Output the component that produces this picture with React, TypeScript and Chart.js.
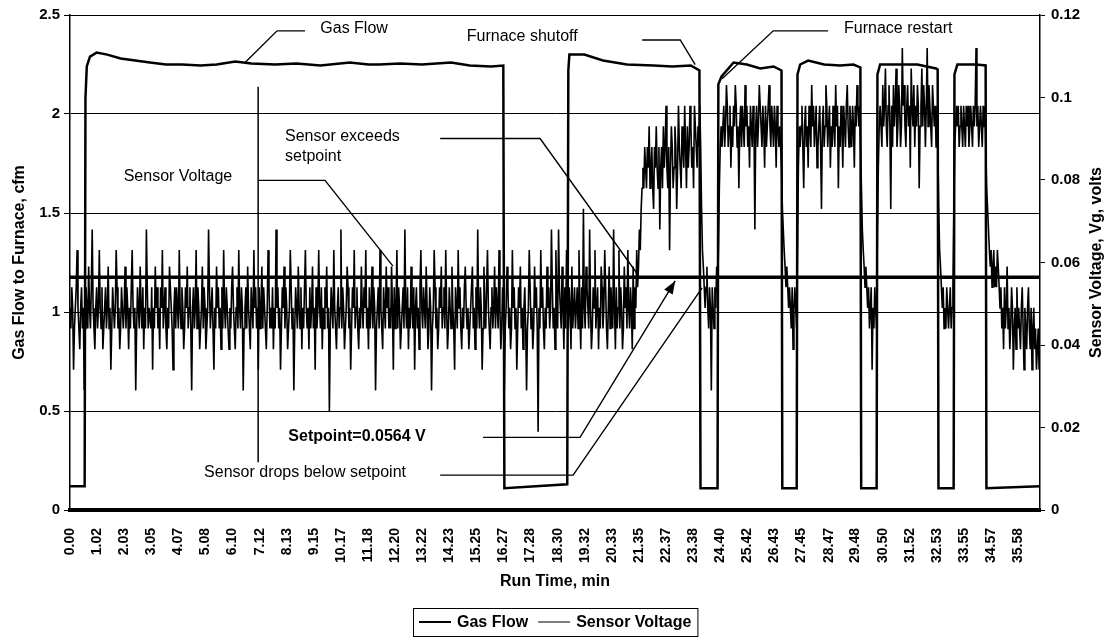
import { useEffect, useRef } from "react";
import { Chart, registerables } from "chart.js";

Chart.register(...registerables);

const FONT = "Arial, 'Liberation Sans', Helvetica, sans-serif";

// Run time tick labels (min), one label every 61 s of logging
const TICK_LABELS = [
  "0.00", "1.02", "2.03", "3.05", "4.07", "5.08", "6.10", "7.12", "8.13", "9.15",
  "10.17", "11.18", "12.20", "13.22", "14.23", "15.25", "16.27", "17.28", "18.30", "19.32",
  "20.33", "21.35", "22.37", "23.38", "24.40", "25.42", "26.43", "27.45", "28.47", "29.48",
  "30.50", "31.52", "32.53", "33.55", "34.57", "35.58",
];

const RUN_END_MIN = 36.4;

// Gas flow to the furnace (cfm) against run time (min)
const GAS_TIME_MIN = [
  0.0, 0.55, 0.58, 0.63, 0.75, 1.0, 1.4, 1.9, 2.45, 3.0, 3.6, 4.2, 4.9, 5.5, 6.2, 6.8, 7.7, 8.5,
  9.4, 10.5, 11.2, 11.6, 12.4, 13.2, 14.3, 15.0, 15.8, 16.26, 16.3, 18.66, 18.7, 18.74, 19.3,
  20.0, 20.9, 21.9, 22.6, 23.3, 23.62, 23.66, 24.3, 24.33, 24.45, 24.9, 25.4, 25.9, 26.4, 26.7,
  26.73, 27.27, 27.3, 27.4, 27.7, 28.3, 28.9, 29.4, 29.66, 29.69, 30.27, 30.3, 30.4, 31.0, 31.8,
  32.5, 32.56, 32.59, 33.16, 33.19, 33.3, 34.0, 34.36, 34.39, 36.4,
];
const GAS_FLOW_CFM = [
  0.12, 0.12, 2.08, 2.24, 2.29, 2.31, 2.3, 2.28, 2.27, 2.26, 2.25, 2.25, 2.245, 2.25, 2.265, 2.255,
  2.25, 2.255, 2.245, 2.26, 2.25, 2.25, 2.255, 2.25, 2.26, 2.245, 2.24, 2.245, 0.11, 0.13, 2.22,
  2.3, 2.3, 2.27, 2.25, 2.245, 2.24, 2.245, 2.22, 0.11, 0.11, 2.15, 2.19, 2.26, 2.25, 2.23, 2.24,
  2.22, 0.11, 0.11, 2.2, 2.25, 2.27, 2.25, 2.245, 2.25, 2.235, 0.11, 0.11, 2.2, 2.25, 2.25, 2.25,
  2.23, 2.225, 0.11, 0.11, 2.2, 2.25, 2.25, 2.245, 0.11, 0.12,
];

// Sensor voltage Vg, logged every 2 s, in millivolts (one row = one minute)
const SENSOR_SAMPLE_SEC = 2;
const SENSOR_MV = [
  49, 44, 54, 49, 34, 44, 49, 54, 63, 49, 44, 39, 49, 54, 44, 49, 29, 44, 54, 49, 44, 59, 49, 44, 54, 68, 49, 44, 39, 49,
  54, 44, 49, 63, 49, 44, 54, 39, 44, 49, 54, 44, 49, 59, 44, 49, 34, 44, 54, 49, 44, 49, 63, 54, 44, 49, 39, 44, 54, 49,
  44, 49, 59, 44, 54, 49, 39, 49, 44, 54, 63, 49, 44, 49, 29, 44, 54, 49, 44, 59, 49, 44, 54, 39, 49, 44, 68, 54, 44, 49,
  49, 44, 54, 34, 49, 44, 59, 49, 54, 44, 49, 39, 54, 49, 63, 44, 49, 54, 44, 39, 49, 44, 59, 54, 49, 44, 34, 49, 54, 44,
  54, 49, 44, 63, 49, 44, 54, 49, 39, 44, 54, 49, 59, 44, 49, 54, 44, 29, 49, 54, 44, 49, 63, 44, 54, 49, 39, 44, 49, 59,
  44, 54, 49, 39, 44, 49, 68, 54, 44, 49, 54, 44, 34, 49, 44, 59, 49, 54, 44, 49, 39, 54, 44, 63, 49, 44, 54, 49, 44, 39,
  49, 44, 54, 59, 49, 44, 39, 49, 54, 44, 63, 49, 44, 54, 49, 29, 44, 49, 54, 44, 59, 49, 44, 39, 54, 49, 44, 63, 49, 54,
  44, 49, 34, 54, 44, 49, 59, 44, 54, 49, 44, 39, 49, 63, 54, 44, 49, 44, 54, 39, 49, 44, 68, 49, 54, 44, 49, 34, 44, 54,
  49, 59, 44, 54, 49, 39, 44, 49, 63, 54, 44, 49, 29, 44, 54, 49, 44, 59, 49, 44, 54, 39, 49, 44, 54, 63, 49, 44, 49, 39,
  54, 44, 49, 59, 44, 49, 34, 54, 44, 49, 63, 49, 44, 54, 39, 49, 44, 54, 49, 59, 44, 49, 24, 44, 54, 49, 44, 63, 49, 44,
  39, 49, 54, 44, 49, 68, 44, 54, 49, 39, 44, 49, 59, 54, 44, 49, 34, 44, 54, 49, 63, 44, 49, 54, 44, 39, 49, 44, 59, 49,
  44, 54, 49, 63, 44, 49, 39, 54, 44, 49, 59, 44, 54, 49, 29, 44, 49, 54, 44, 63, 49, 44, 39, 54, 49, 44, 59, 49, 54, 44,
  49, 44, 59, 49, 34, 54, 44, 49, 63, 44, 54, 49, 39, 44, 49, 54, 44, 68, 49, 44, 54, 39, 49, 44, 59, 49, 44, 54, 34, 49,
  54, 44, 49, 39, 54, 63, 49, 44, 54, 49, 44, 59, 49, 39, 44, 54, 49, 29, 44, 49, 63, 54, 44, 49, 39, 44, 54, 49, 59, 44,
  49, 54, 44, 63, 49, 39, 44, 54, 49, 44, 59, 49, 44, 34, 54, 49, 44, 63, 49, 54, 44, 39, 49, 44, 54, 59, 49, 44, 49, 39,
  44, 49, 54, 59, 44, 49, 39, 54, 44, 68, 49, 44, 54, 49, 34, 44, 59, 49, 44, 54, 63, 49, 44, 39, 49, 54, 44, 49, 59, 44,
  54, 49, 44, 63, 49, 39, 44, 54, 49, 29, 44, 49, 59, 54, 44, 49, 39, 44, 63, 49, 54, 44, 49, 34, 44, 54, 49, 59, 44, 49,
  39, 49, 54, 44, 29, 44, 49, 63, 54, 44, 49, 39, 44, 59, 49, 54, 44, 19, 49, 44, 63, 49, 54, 44, 39, 49, 44, 59, 49, 54,
  44, 49, 68, 54, 44, 49, 39, 63, 49, 44, 68, 54, 49, 44, 59, 49, 39, 54, 44, 63, 49, 44, 54, 49, 39, 59, 44, 49, 54, 44,
  49, 54, 44, 63, 49, 39, 54, 44, 73, 49, 44, 59, 54, 49, 44, 68, 49, 39, 44, 54, 49, 63, 44, 49, 54, 39, 49, 44, 59, 54,
  44, 49, 63, 54, 44, 39, 49, 59, 44, 54, 49, 44, 68, 49, 39, 54, 44, 49, 63, 44, 54, 49, 39, 44, 59, 49, 54, 44, 63, 49,
  44, 54, 49, 39, 59, 44, 54, 49, 63, 54,
  59, 68, 63, 73, 78, 83, 78, 88,
  83, 78, 88, 83, 93, 78, 83, 88, 78, 73, 88, 83, 93, 83, 78, 88, 68, 83, 88, 78, 93, 83, 88, 98, 83, 78, 88, 63, 83, 93,
  88, 78, 83, 93, 88, 73, 83, 98, 88, 83, 78, 93, 88, 83, 98, 88, 78, 93, 83, 88, 98, 93, 83, 88, 78, 98, 93, 88, 83, 93,
  88, 98,
  88, 73, 63, 59, 54, 49, 54, 59, 49, 44, 54, 49, 29, 54, 49, 44, 54, 49, 59, 54,
  63, 78, 88, 93, 88,
  93, 98, 88, 93, 103, 98, 88, 93, 98, 83, 93, 88, 98, 93, 103, 98, 88, 93, 78, 93, 98, 88, 98, 93, 88, 103, 93, 98, 88, 93,
  83, 98, 93, 88, 98, 93, 68, 93, 98, 88, 93, 103, 98, 93, 88, 98, 93, 83, 98, 88, 93, 98, 103, 93, 88, 98, 93, 88, 98, 93,
  83, 98, 93, 88, 93,
  88, 83, 73, 68, 63, 59, 54, 59, 54, 49, 54, 49, 44, 54, 39, 49, 54, 49, 44,
  63, 83, 93, 88,
  93, 98, 88, 78, 93, 98, 88, 93, 83, 98, 93, 88, 103, 93, 98, 88, 93, 98, 83, 88, 93, 98, 88, 73, 93, 98, 88, 93, 103, 98,
  88, 93, 98, 83, 93, 88, 98, 93, 88, 103, 93, 98, 78, 93, 88, 98, 93, 83, 98, 93, 88, 98, 103, 93, 88, 98, 93, 88, 98, 93,
  83, 98, 93, 103, 98, 93, 98,
  88, 78, 68, 63, 59, 54, 59, 54, 49, 54, 44, 49, 54, 34, 49, 44, 54, 49, 44,
  68, 83, 93, 98,
  98, 88, 103, 93, 98, 107, 93, 88, 98, 103, 93, 73, 98, 88, 103, 93, 98, 107, 88, 93, 103, 98, 88, 93, 112, 98, 103, 93, 88, 98,
  103, 93, 98, 83, 107, 98, 93, 103, 88, 98, 93, 103, 98, 78, 93, 98, 107, 93, 103, 98, 88, 98, 112, 93, 103, 98, 93, 88, 103, 98,
  93, 98, 88, 98,
  88, 73, 63, 59, 54, 49, 54, 44, 49, 44, 54, 49, 44, 49, 54, 44, 49, 54,
  73, 88, 93, 98,
  93, 98, 88, 93, 98, 93, 88, 98, 93, 88, 98, 93, 98, 88, 93, 98, 93, 88, 98, 93, 98, 112, 93, 98, 88, 93, 98, 93, 88, 98,
  93, 98,
  88, 78, 73, 68, 63, 59, 63, 54, 59, 63, 54, 59, 54, 63, 59, 54,
  49, 54, 44, 49, 39, 54, 44, 49, 59, 44, 49, 39, 44, 54, 49, 34, 44, 49, 39, 54, 44, 49, 44, 39, 49, 54, 44, 34, 49, 44,
  39, 49, 54, 44, 39, 49, 34, 44, 49, 39, 44, 34, 39, 44, 34,
];

const SETPOINT_V = 0.0564;

const FLOW_TICKS = [0, 0.5, 1, 1.5, 2, 2.5];
const VOLT_TICKS = [0, 0.02, 0.04, 0.06, 0.08, 0.1, 0.12];

// Callout texts with their leader lines, in (run time min, gas flow cfm)
type Callout = {
  text: string[];
  at: [number, number];
  align?: CanvasTextAlign;
  bold?: boolean;
  arrow?: boolean;
  leader: [number, number][];
};

const CALLOUTS: Callout[] = [
  { text: ["Gas Flow"], at: [10.66, 2.43], leader: [[8.82, 2.42], [7.77, 2.42], [6.57, 2.26]] },
  { text: ["Furnace shutoff"], at: [16.97, 2.39], leader: [[21.47, 2.374], [22.9, 2.374], [23.46, 2.249]] },
  { text: ["Furnace restart"], at: [31.08, 2.43], leader: [[28.45, 2.42], [26.39, 2.42], [24.47, 2.178]] },
  {
    text: ["Sensor exceeds", "setpoint"],
    at: [8.07, 1.886],
    align: "left",
    leader: [[13.89, 1.876], [17.64, 1.876], [21.32, 1.187]],
  },
  { text: ["Sensor Voltage"], at: [4.05, 1.685], leader: [[7.06, 1.665], [9.57, 1.665], [12.12, 1.232]] },
  {
    text: [`Setpoint=${SETPOINT_V} V`],
    at: [10.77, 0.372],
    bold: true,
    arrow: true,
    leader: [[15.5, 0.367], [19.14, 0.367], [22.71, 1.157]],
  },
  {
    text: ["Sensor drops below setpoint"],
    at: [8.82, 0.191],
    leader: [[13.89, 0.176], [18.88, 0.176], [23.72, 1.122]],
  },
];

const MARKER_LINE: [number, number][] = [[7.06, 2.138], [7.06, 0.241]];

const decorations = {
  id: "decorations",
  afterDraw(chart: any) {
    const { ctx, chartArea: a, scales } = chart;
    const px = (t: number) => scales.x.getPixelForValue(t);
    const py = (v: number) => scales.y.getPixelForValue(v);
    ctx.save();
    ctx.strokeStyle = "#000";
    ctx.fillStyle = "#000";

    // plot frame top edge
    ctx.lineWidth = 1;
    ctx.beginPath();
    ctx.moveTo(a.left, a.top + 0.5);
    ctx.lineTo(a.right, a.top + 0.5);
    ctx.stroke();

    // vertical marker
    ctx.lineWidth = 1.5;
    ctx.beginPath();
    ctx.moveTo(px(MARKER_LINE[0][0]), py(MARKER_LINE[0][1]));
    ctx.lineTo(px(MARKER_LINE[1][0]), py(MARKER_LINE[1][1]));
    ctx.stroke();

    // callouts
    for (const c of CALLOUTS) {
      ctx.lineWidth = 1.4;
      ctx.beginPath();
      c.leader.forEach(([t, v], k) => (k ? ctx.lineTo(px(t), py(v)) : ctx.moveTo(px(t), py(v))));
      ctx.stroke();
      if (c.arrow) {
        const n = c.leader.length;
        const x1 = px(c.leader[n - 2][0]), y1 = py(c.leader[n - 2][1]);
        const x2 = px(c.leader[n - 1][0]), y2 = py(c.leader[n - 1][1]);
        const ang = Math.atan2(y2 - y1, x2 - x1);
        const L = 13, W = 5;
        const bx = x2 - L * Math.cos(ang), by = y2 - L * Math.sin(ang);
        ctx.beginPath();
        ctx.moveTo(x2, y2);
        ctx.lineTo(bx - W * Math.sin(ang), by + W * Math.cos(ang));
        ctx.lineTo(bx + W * Math.sin(ang), by - W * Math.cos(ang));
        ctx.closePath();
        ctx.fill();
      }
      ctx.font = `${c.bold ? "bold " : ""}16px ${FONT}`;
      ctx.textAlign = c.align ?? "center";
      ctx.textBaseline = "middle";
      c.text.forEach((line, k) => ctx.fillText(line, px(c.at[0]), py(c.at[1]) + k * 20));
    }

    // axis titles
    ctx.font = `bold 16px ${FONT}`;
    ctx.textAlign = "center";
    ctx.textBaseline = "middle";
    ctx.fillText("Run Time, min", (a.left + a.right) / 2, 582);
    const midY = (a.top + a.bottom) / 2;
    ctx.save();
    ctx.translate(20, midY);
    ctx.rotate(-Math.PI / 2);
    ctx.fillText("Gas Flow to Furnace, cfm", 0, 0);
    ctx.restore();
    ctx.save();
    ctx.translate(1097, midY);
    ctx.rotate(-Math.PI / 2);
    ctx.fillText("Sensor Voltage, Vg, volts", 0, 0);
    ctx.restore();

    // legend box
    const items = chart.data.datasets.filter((d: any) => !d.hideInLegend);
    ctx.font = `bold 16px ${FONT}`;
    const lineLen = 32, gap = 6, itemGap = 10, pad = 6, boxH = 28;
    const widths = items.map((d: any) => lineLen + gap + ctx.measureText(d.label).width);
    const total = pad * 2 + widths.reduce((s: number, w: number) => s + w, 0) + itemGap * (items.length - 1);
    const cy = 622;
    let x = Math.round((a.left + a.right) / 2 - total / 2);
    ctx.lineWidth = 1;
    ctx.strokeRect(x + 0.5, cy - boxH / 2 + 0.5, total, boxH);
    x += pad;
    ctx.textAlign = "left";
    items.forEach((d: any, k: number) => {
      ctx.lineWidth = d.legendLineWidth;
      ctx.beginPath();
      ctx.moveTo(x, cy);
      ctx.lineTo(x + lineLen, cy);
      ctx.stroke();
      ctx.fillText(d.label, x + lineLen + gap, cy + 1);
      x += widths[k] + itemGap;
    });

    ctx.restore();
  },
};

export default function App() {
  const ref = useRef<HTMLCanvasElement>(null);

  useEffect(() => {
    const gasData = GAS_TIME_MIN.map((t, i) => ({ x: t, y: GAS_FLOW_CFM[i] }));
    const sensorData = SENSOR_MV.map((mv, i) => ({ x: (i * SENSOR_SAMPLE_SEC) / 60, y: mv / 1000 }));
    const setpointData = [
      { x: 0, y: SETPOINT_V },
      { x: RUN_END_MIN, y: SETPOINT_V },
    ];
    const tickFont = { family: FONT, size: 14, weight: "bold" as const };

    const chart = new Chart(ref.current!, {
      type: "line",
      data: {
        datasets: [
          {
            label: "Gas Flow",
            data: gasData,
            yAxisID: "y",
            borderColor: "#000",
            backgroundColor: "#000",
            borderWidth: 2.5,
            legendLineWidth: 2,
            pointRadius: 0,
            tension: 0,
          } as any,
          {
            label: "Sensor Voltage",
            data: sensorData,
            yAxisID: "yV",
            borderColor: "#000",
            backgroundColor: "#000",
            borderWidth: 1.6,
            legendLineWidth: 1,
            pointRadius: 0,
            tension: 0,
          } as any,
          {
            label: "Setpoint",
            hideInLegend: true,
            data: setpointData,
            yAxisID: "yV",
            borderColor: "#000",
            borderWidth: 3.5,
            pointRadius: 0,
          } as any,
        ],
      },
      options: {
        responsive: false,
        animation: false,
        devicePixelRatio: 1,
        layout: { padding: { top: 13, left: 0, right: 0, bottom: 0 } },
        plugins: { legend: { display: false }, tooltip: { enabled: false } },
        scales: {
          x: {
            type: "linear",
            min: 0,
            max: RUN_END_MIN,
            grid: { display: false },
            border: { display: true, color: "#000", width: 4 },
            afterBuildTicks: (s: any) => {
              s.ticks = TICK_LABELS.map((l) => ({ value: parseFloat(l) }));
            },
            afterFit: (s: any) => {
              s.height = 129;
            },
            ticks: {
              autoSkip: false,
              minRotation: 90,
              maxRotation: 90,
              padding: 10,
              color: "#000",
              font: tickFont,
              callback: (_v: any, i: number) => TICK_LABELS[i],
            },
          },
          y: {
            position: "left",
            min: 0,
            max: 2.5,
            afterBuildTicks: (s: any) => {
              s.ticks = FLOW_TICKS.map((v) => ({ value: v }));
            },
            afterFit: (s: any) => {
              s.width = 70;
            },
            grid: { color: "#000", lineWidth: 1, tickLength: 6 },
            border: { color: "#000", width: 1.5 },
            ticks: { padding: 4, color: "#000", font: { ...tickFont, size: 15 }, callback: (v: any) => String(v) },
          },
          yV: {
            position: "right",
            min: 0,
            max: 0.12,
            afterBuildTicks: (s: any) => {
              s.ticks = VOLT_TICKS.map((v) => ({ value: v }));
            },
            afterFit: (s: any) => {
              s.width = 70;
            },
            grid: { drawOnChartArea: false, color: "#000", tickLength: 5 },
            border: { color: "#000", width: 1.5 },
            ticks: {
              padding: 6,
              color: "#000",
              font: { ...tickFont, size: 15 },
              callback: (v: any) => String(+Number(v).toFixed(2)),
            },
          },
        },
      },
      plugins: [decorations],
    });
    return () => chart.destroy();
  }, []);

  return (
    <div style={{ position: "absolute", left: 0, top: 0, width: 1110, height: 639, background: "#fff" }}>
      <canvas ref={ref} width={1110} height={639} style={{ display: "block", width: 1110, height: 639 }} />
    </div>
  );
}
